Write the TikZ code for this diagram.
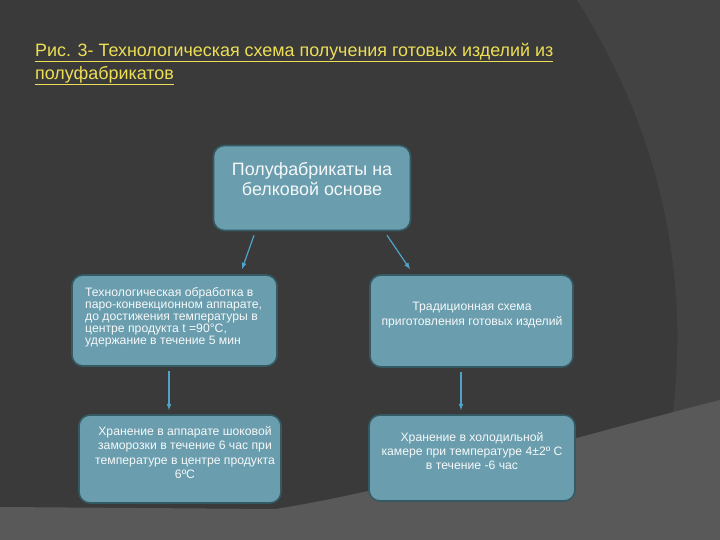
\documentclass[tikz,border=0pt]{standalone}
\usepackage{fontspec}
\setmainfont{Liberation Sans}
\usetikzlibrary{positioning}
\definecolor{bgdark}{HTML}{3A3A3A}
\definecolor{bgband}{HTML}{434343}
\definecolor{bglight}{HTML}{595959}
\definecolor{boxfill}{HTML}{6A9DAD}
\definecolor{boxline}{HTML}{345A64}
\definecolor{linkcol}{HTML}{4FA3C8}
\definecolor{titlecol}{HTML}{EDDF55}
\begin{document}
\begin{tikzpicture}[x=1pt, y=-1pt, >=latex,
  box/.style={draw=boxline, line width=1.6pt, fill=boxfill, rounded corners=11pt},
  boxtext/.style={text=white!94!boxfill, font=\fontsize{12.2}{14.2}\selectfont, align=center, inner sep=0pt},
  link/.style={->, draw=linkcol, line width=1.2pt}]
  % background
  \useasboundingbox (0,0) rectangle (720,540);
  \fill [bgdark] (0,0) rectangle (720,540);
  \fill [bgband] (577,0) .. controls (640,100) and (695,240) .. (672,420) -- (720,420) -- (720,0) -- cycle;
  \fill [bglight] (0,507) -- (275,509) .. controls (400,490) and (600,430) .. (720,400) -- (720,540) -- (0,540) -- cycle;
  % title
  \node (title) at (35,64) [anchor=west, align=left, inner sep=0pt, text=titlecol, font=\fontsize{17.9}{23}\selectfont]
    {\underline{Рис. 3- Технологическая схема получения готовых изделий из}\\
     \underline{полуфабрикатов}};
  % boxes
  \node (base) at (312,188) [box, minimum width=197pt, minimum height=85pt] {};
  \node (steam) at (174.5,320.5) [box, minimum width=205pt, minimum height=91pt] {};
  \node (trad) at (471.5,321) [box, minimum width=203pt, minimum height=92pt] {};
  \node (shock) at (180,459) [box, minimum width=202pt, minimum height=88pt] {};
  \node (fridge) at (472,458) [box, minimum width=206pt, minimum height=86pt] {};
  % texts
  \node (basetext) at (312,179) [boxtext, font=\fontsize{17.9}{20.5}\selectfont]
    {Полуфабрикаты на\\белковой основе};
  \node (steamtext) at (85,317) [boxtext, anchor=west, align=left, font=\fontsize{12.2}{12}\selectfont]
    {Технологическая обработка в\\паро-конвекционном аппарате,\\до достижения температуры в\\центре продукта t =90°С,\\удержание в течение 5 мин};
  \node (tradtext) at (472,315) [boxtext]
    {Традиционная схема\\приготовления готовых изделий};
  \node (shocktext) at (185,452.5) [boxtext]
    {Хранение в аппарате шоковой\\заморозки в течение 6 час при\\температуре в центре продукта\\6ºС};
  \node (fridgetext) at (472,451) [boxtext]
    {Хранение в холодильной\\камере при температуре 4±2º С\\в течение -6 час};
  % arrows
  \draw [link] ([xshift=-58pt, yshift=-4pt]base.south) -- ([xshift=67.5pt, yshift=5pt]steam.north);
  \draw [link] ([xshift=75pt, yshift=-4pt]base.south) -- ([xshift=-61.5pt, yshift=5pt]trad.north);
  \draw [link] ([xshift=-5.5pt, yshift=-4pt]steam.south) -- ([xshift=-11pt, yshift=4pt]shock.north);
  \draw [link] ([xshift=-10.5pt, yshift=-4pt]trad.south) -- ([xshift=-11pt, yshift=4pt]fridge.north);
\end{tikzpicture}
\end{document}
